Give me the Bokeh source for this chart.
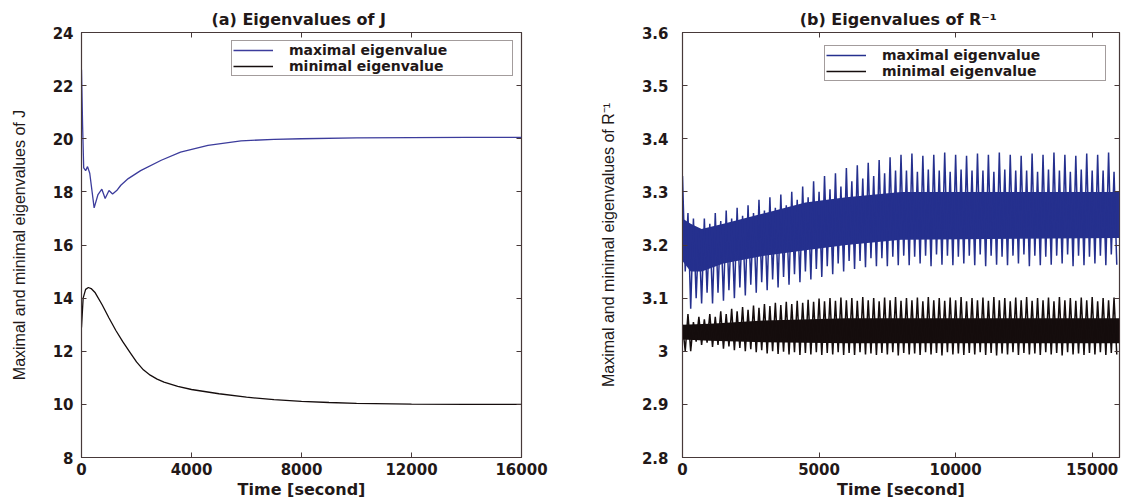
import numpy as np
from bokeh.plotting import figure
from bokeh.layouts import row
from bokeh.models import (Legend, LegendItem, LinearAxis, FixedTicker,
                          CustomJSTickFormatter, Range1d)
from bokeh.embed import file_html
from bokeh.resources import INLINE

# ---------------- panel (a): eigenvalues of J ----------------
j_max_time = [0, 40, 80, 150, 220, 300, 460, 600, 740, 860, 1000, 1130, 1280,
              1430, 1700, 2150, 2900, 3600, 4600, 5800, 7000, 8000, 10000,
              12000, 14000, 16000]
j_max = [22.6, 20.5, 18.9, 18.8, 18.95, 18.7, 17.4, 17.9, 18.1, 17.75, 18.05,
         17.92, 18.05, 18.25, 18.5, 18.8, 19.19, 19.5, 19.75, 19.92, 19.98,
         20.0, 20.03, 20.04, 20.05, 20.05]

j_min_time = [0, 60, 150, 250, 350, 500, 750, 1000, 1250, 1500, 1750, 2000,
              2250, 2500, 2750, 3000, 3500, 4000, 5000, 6000, 7000, 8000,
              9000, 10000, 12000, 14000, 16000]
j_min = [12.9, 14.0, 14.33, 14.4, 14.36, 14.2, 13.75, 13.25, 12.78, 12.36,
         11.98, 11.6, 11.3, 11.1, 10.95, 10.84, 10.68, 10.56, 10.4, 10.27,
         10.18, 10.11, 10.07, 10.04, 10.01, 10.0, 10.0]

j_xticks = [0, 4000, 8000, 12000, 16000]
j_yticks = [8, 10, 12, 14, 16, 18, 20, 22, 24]

# ---------------- panel (b): eigenvalues of R^-1 ----------------
# upper / lower turning points of the fast oscillation, one every 200 s
r_peak_time = list(range(0, 16000, 200))
r_trough_time = list(range(100, 16000, 200))

r_max_peaks = [
    3.33, 3.26, 3.25, 3.23, 3.25, 3.24, 3.26, 3.245, 3.265, 3.25,
    3.27, 3.255, 3.275, 3.26, 3.285, 3.265, 3.29, 3.27, 3.295, 3.275,
    3.30, 3.285, 3.31, 3.29, 3.32, 3.30, 3.33, 3.305, 3.335, 3.31,
    3.345, 3.32, 3.35, 3.325, 3.355, 3.33, 3.36, 3.335, 3.365, 3.34,
    3.37, 3.34, 3.372, 3.338, 3.368, 3.342, 3.37, 3.34, 3.374, 3.338,
    3.37, 3.342, 3.368, 3.34, 3.372, 3.34, 3.37, 3.338, 3.374, 3.342,
    3.37, 3.34, 3.368, 3.34, 3.372, 3.338, 3.37, 3.342, 3.374, 3.34,
    3.37, 3.338, 3.368, 3.342, 3.372, 3.34, 3.37, 3.34, 3.374, 3.338]
r_max_troughs = [
    3.15, 3.08, 3.10, 3.09, 3.11, 3.09, 3.11, 3.095, 3.115, 3.10,
    3.12, 3.105, 3.125, 3.11, 3.13, 3.115, 3.135, 3.12, 3.14, 3.125,
    3.145, 3.13, 3.15, 3.135, 3.155, 3.14, 3.16, 3.145, 3.165, 3.15,
    3.17, 3.155, 3.17, 3.158, 3.175, 3.16, 3.175, 3.16, 3.178, 3.162,
    3.18, 3.162, 3.178, 3.165, 3.18, 3.16, 3.182, 3.163, 3.18, 3.162,
    3.178, 3.165, 3.18, 3.162, 3.182, 3.16, 3.18, 3.163, 3.178, 3.162,
    3.18, 3.165, 3.182, 3.16, 3.18, 3.162, 3.178, 3.163, 3.18, 3.165,
    3.182, 3.16, 3.18, 3.162, 3.178, 3.165, 3.18, 3.162, 3.182, 3.163]

r_min_peaks = [
    3.05, 3.07, 3.055, 3.065, 3.06, 3.07, 3.065, 3.075, 3.07, 3.08,
    3.075, 3.083, 3.078, 3.086, 3.082, 3.089, 3.085, 3.091, 3.087, 3.093,
    3.089, 3.095, 3.091, 3.097, 3.093, 3.099, 3.094, 3.10, 3.095, 3.101,
    3.096, 3.10, 3.095, 3.102, 3.096, 3.10, 3.094, 3.101, 3.096, 3.102,
    3.095, 3.10, 3.096, 3.101, 3.094, 3.102, 3.096, 3.10, 3.095, 3.101,
    3.096, 3.102, 3.094, 3.10, 3.096, 3.101, 3.095, 3.102, 3.096, 3.10,
    3.094, 3.101, 3.096, 3.102, 3.095, 3.10, 3.096, 3.101, 3.094, 3.102,
    3.096, 3.10, 3.095, 3.101, 3.096, 3.102, 3.094, 3.10, 3.096, 3.101]
r_min_troughs = [
    3.0, 3.0, 3.018, 3.012, 3.016, 3.008, 3.012, 3.005, 3.009, 3.002,
    3.006, 3.0, 3.004, 2.998, 3.002, 2.996, 3.0, 2.995, 2.999, 2.994,
    2.998, 2.993, 2.997, 2.994, 2.998, 2.993, 2.997, 2.994, 2.998, 2.993,
    2.997, 2.993, 2.998, 2.994, 2.996, 2.993, 2.997, 2.994, 2.998, 2.992,
    2.997, 2.994, 2.996, 2.993, 2.998, 2.994, 2.997, 2.992, 2.998, 2.994,
    2.996, 2.993, 2.997, 2.994, 2.998, 2.993, 2.997, 2.992, 2.996, 2.994,
    2.998, 2.993, 2.997, 2.994, 2.996, 2.993, 2.998, 2.994, 2.997, 2.992,
    2.998, 2.994, 2.996, 2.993, 2.997, 2.994, 2.998, 2.993, 2.997, 2.994]

# dense core of each oscillating band
r_max_core_time = [0, 300, 700, 1500, 3000, 4500, 6000, 8000, 16000]
r_max_core_hi = [3.25, 3.24, 3.23, 3.24, 3.26, 3.28, 3.29, 3.30, 3.30]
r_max_core_lo = [3.17, 3.15, 3.15, 3.165, 3.18, 3.19, 3.20, 3.21, 3.213]
r_min_core_time = [0, 1000, 3000, 6000, 16000]
r_min_core_hi = [3.05, 3.052, 3.058, 3.062, 3.062]
r_min_core_lo = [3.022, 3.02, 3.017, 3.015, 3.015]

r_xticks = [0, 5000, 10000, 15000]
r_yticks = [2.8, 2.9, 3.0, 3.1, 3.2, 3.3, 3.4, 3.5, 3.6]

# ---------------- styling ----------------
FRAME = "#473939"
TEXT = "#221818"
BLUE = "#25308e"
BLUE_A = "#3c3c9c"
BLACK = "#150d0d"
TICK_FONT = "DejaVu Sans"
LABEL_FONT = "Liberation Sans"


def zigzag(t_up, v_up, t_dn, v_dn):
    """Interleave upper and lower turning points into one polyline."""
    n = len(v_up)
    t = np.empty(2 * n)
    v = np.empty(2 * n)
    t[0::2], t[1::2] = t_up, t_dn
    v[0::2], v[1::2] = v_up, v_dn
    return t, v


def make_panel(title, x_end, y_start, y_end, xticks, yticks, ylabel,
               border_left, border_right, label_standoff, ylabel_standoff):
    p = figure(width=562, height=501, output_backend="svg",
               toolbar_location=None, x_range=Range1d(0, x_end),
               y_range=Range1d(y_start, y_end),
               min_border_left=border_left, min_border_right=border_right,
               min_border_top=32, min_border_bottom=39)
    p.background_fill_color = "white"
    p.border_fill_color = "white"
    p.outline_line_color = FRAME
    p.outline_line_width = 1.2
    p.xgrid.visible = False
    p.ygrid.visible = False

    p.title.text = title
    p.title.align = "center"
    p.title.text_font = TICK_FONT
    p.title.text_font_size = "16px"
    p.title.text_font_style = "bold"
    p.title.text_color = TEXT
    p.title.standoff = 8

    for ax in (p.xaxis[0], p.yaxis[0]):
        ax.axis_line_color = FRAME
        ax.major_tick_line_color = FRAME
        ax.major_tick_in = 5
        ax.major_tick_out = 0
        ax.minor_tick_line_color = None
        ax.major_label_text_font = TICK_FONT
        ax.major_label_text_font_size = "15px"
        ax.major_label_text_font_style = "bold"
        ax.major_label_text_color = TEXT
    p.xaxis[0].ticker = FixedTicker(ticks=xticks)
    p.yaxis[0].ticker = FixedTicker(ticks=yticks)
    p.xaxis[0].major_label_standoff = 5
    p.yaxis[0].major_label_standoff = label_standoff

    p.xaxis[0].axis_label = "Time [second]"
    p.xaxis[0].axis_label_text_font = TICK_FONT
    p.xaxis[0].axis_label_text_font_size = "16px"
    p.xaxis[0].axis_label_text_font_style = "bold"
    p.xaxis[0].axis_label_text_color = TEXT
    p.xaxis[0].axis_label_standoff = 2

    p.yaxis[0].axis_label = ylabel
    p.yaxis[0].axis_label_text_font = LABEL_FONT
    p.yaxis[0].axis_label_text_font_size = "16px"
    p.yaxis[0].axis_label_text_font_style = "normal"
    p.yaxis[0].axis_label_text_color = TEXT
    p.yaxis[0].axis_label_standoff = ylabel_standoff

    # inward ticks on the top and right edges of the box, without labels
    for side, ticks in (("above", xticks), ("right", yticks)):
        ax = LinearAxis(ticker=FixedTicker(ticks=ticks),
                        major_label_text_font_size="0px",
                        major_label_text_color=None,
                        major_label_standoff=0,
                        axis_line_color=None,
                        major_tick_line_color=FRAME,
                        major_tick_in=5, major_tick_out=0,
                        minor_tick_line_color=None)
        p.add_layout(ax, side)
    return p


def add_legend(p, r_max, r_min, margin):
    legend = Legend(items=[LegendItem(label="maximal eigenvalue", renderers=[r_max]),
                           LegendItem(label="minimal eigenvalue", renderers=[r_min])],
                    location="top_right", margin=margin, padding=1, spacing=0,
                    glyph_width=40, glyph_height=10, label_standoff=16,
                    label_width=222, label_height=10,
                    label_text_font=TICK_FONT, label_text_font_size="14px",
                    label_text_font_style="bold", label_text_color=TEXT,
                    label_text_line_height=1.0,
                    border_line_color=FRAME, border_line_width=1,
                    background_fill_color="white", background_fill_alpha=1)
    p.add_layout(legend)


# panel (a)
pa = make_panel("(a) Eigenvalues of  J", 16000, 8, 24, j_xticks, j_yticks,
                "Maximal and minimal eigenvalues of J", 81, 41, 8, 22)
ra_max = pa.line(j_max_time, j_max, line_color=BLUE_A, line_width=1.3)
ra_min = pa.line(j_min_time, j_min, line_color=BLACK, line_width=1.3)
add_legend(pa, ra_max, ra_min, 8)

# panel (b)
pb = make_panel("(b) Eigenvalues of  R\u207b\u00b9", 16000, 2.8, 3.6, r_xticks, r_yticks,
                "Maximal and minimal eigenvalues of R\u207b\u00b9", 120, 5, 14, 22)
pb.yaxis[0].formatter = CustomJSTickFormatter(
    code="return (Math.round(tick * 10) / 10).toString();")

pb.varea(x=r_max_core_time, y1=r_max_core_lo, y2=r_max_core_hi,
         fill_color=BLUE, fill_alpha=1)
pb.varea(x=r_min_core_time, y1=r_min_core_lo, y2=r_min_core_hi,
         fill_color=BLACK, fill_alpha=1)
tb, vb = zigzag(r_peak_time, r_max_peaks, r_trough_time, r_max_troughs)
rb_max = pb.line(tb, vb, line_color=BLUE, line_width=1.5)
tk, vk = zigzag(r_peak_time, r_min_peaks, r_trough_time, r_min_troughs)
rb_min = pb.line(tk, vk, line_color=BLACK, line_width=1.5)
add_legend(pb, rb_max, rb_min, 13)

layout = row(pa, pb)
open("out.html", "w").write(file_html(layout, INLINE))
